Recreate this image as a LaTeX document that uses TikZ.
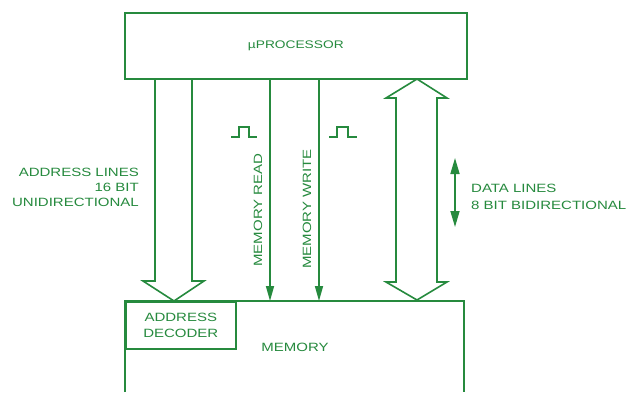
\documentclass[tikz,border=0pt]{standalone}
\usepackage{fontspec}
\setmainfont[FakeStretch=1.25]{Liberation Sans}
\usetikzlibrary{arrows.meta}
\definecolor{grn}{RGB}{38,138,62}
\begin{document}
\begin{tikzpicture}[x=1pt,y=-1pt,
  box/.style={draw=grn,line width=1.6pt,inner sep=0pt},
  lbl/.style={text=grn,font=\fontsize{12}{15}\selectfont,inner sep=0pt},
  wire/.style={draw=grn,line width=1.6pt,line join=miter},
  sig/.style={draw=grn,line width=1.6pt,-{Triangle[length=15pt,width=8pt]}},
  pulse/.style={draw=grn,line width=1.4pt}]
\useasboundingbox[fill=white] (0,0) rectangle (640,392);
% boxes
\node[box,minimum width=342pt,minimum height=66pt,anchor=north west] (proc) at (124,12) {};
\node[lbl,font=\fontsize{11}{14}\selectfont] at (proc.center) {µPROCESSOR};
\draw[box] (125,392) -- (125,301) coordinate (memnw) -- (464,301) coordinate (memne) -- (464,392);
\node[box,minimum width=110pt,minimum height=47pt,anchor=north west] (dec) at (memnw) {};
\node[lbl,align=center,font=\fontsize{12}{16}\selectfont] at (dec.center) {ADDRESS\\DECODER};
\node[lbl] (mem) at (295,347) {MEMORY};
% address bus (hollow arrow)
\coordinate (a1) at (155,0); \coordinate (a2) at (192,0); \coordinate (at) at (174,0);
\draw[wire] (a1 |- proc.south) -- (155,281) -- (143,281) -- (at |- memnw) -- (204,281) -- (192,281) -- (a2 |- proc.south);
% memory read / write
\coordinate (rd) at (270,0); \coordinate (wr) at (319,0);
\draw[sig] (rd |- proc.south) -- (rd |- memnw);
\draw[sig] (wr |- proc.south) -- (wr |- memnw);
% data bus (hollow double arrow)
\draw[wire] (396,98) -- (386,98) -- (417,79) -- (447,98) -- (437,98) -- (437,282) -- (447,282) -- (417,300) -- (386,282) -- (396,282) -- cycle;
% pulses
\draw[pulse] (231,137) -- (239,137) -- (239,127) -- (249,127) -- (249,137) -- (257,137);
\draw[pulse] (329,137) -- (337,137) -- (337,127) -- (348,127) -- (348,137) -- (357,137);
% rotated labels
\node[lbl,rotate=90] (mrd) at (258,210) {MEMORY READ};
\node[lbl,rotate=90] (mwr) at (307,209) {MEMORY WRITE};
% address lines label
\node[lbl,align=right,anchor=east,font=\fontsize{12}{15}\selectfont] (al) at (139,187) {ADDRESS LINES\\16 BIT\\UNIDIRECTIONAL};
% data lines
\coordinate (dt) at (455,158); \coordinate (db) at (455,227);
\draw[grn,line width=1.6pt,{Triangle[length=16pt,width=9pt]}-{Triangle[length=16pt,width=9pt]}] (dt) -- (db);
\node[lbl,align=left,anchor=west,font=\fontsize{12}{17}\selectfont] (dl) at (471,197) {DATA LINES\\8 BIT BIDIRECTIONAL};
\end{tikzpicture}
\end{document}
